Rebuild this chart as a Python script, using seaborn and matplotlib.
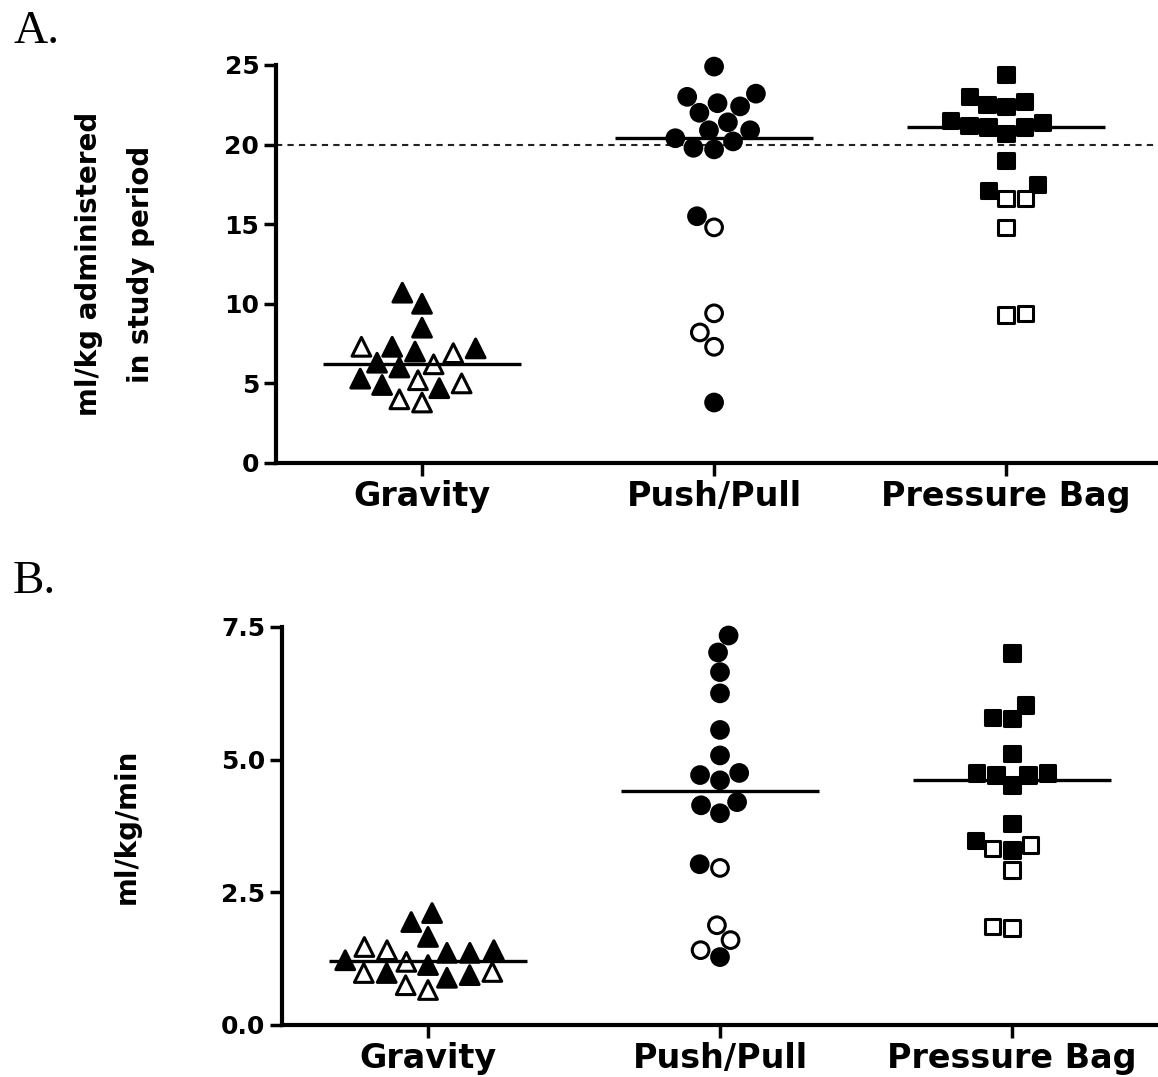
import numpy as np
import pandas as pd
import matplotlib
matplotlib.use("Agg")
import matplotlib.pyplot as plt
import seaborn as sns

# ---------------- data ----------------
methods = ["Gravity", "Push/Pull", "Pressure Bag"]
markers = ["^", "o", "s"]

# Panel A: ml/kg administered in study period
a_gravity_filled = [10.7, 10.0, 8.5, 7.2, 7.0, 7.3, 6.3, 6.0, 5.3, 4.7, 4.9]
a_gravity_open = [7.3, 6.9, 6.2, 5.0, 5.2, 3.8, 4.0]
a_push_filled = [24.9, 22.6, 23.0, 23.2, 22.4, 22.0, 20.9, 21.4, 20.9, 20.2,
                 20.4, 19.7, 19.8, 15.5, 3.8]
a_push_open = [14.8, 9.4, 8.2, 7.3]
a_bag_filled = [24.4, 23.0, 22.5, 22.4, 22.7, 21.4, 21.1, 21.5, 21.1, 21.2,
                20.7, 19.0, 17.1, 17.5]
a_bag_open = [16.6, 16.6, 14.8, 9.3, 9.4]
a_reference = 20

# Panel B: ml/kg/min
b_gravity_filled = [2.11, 1.94, 1.66, 1.36, 1.41, 1.36, 1.22, 0.98, 0.89, 1.13, 0.94]
b_gravity_open = [1.47, 1.41, 1.19, 1.00, 0.98, 0.66, 0.75]
b_push_filled = [7.34, 7.02, 6.65, 6.25, 5.56, 5.08, 4.75, 4.61, 4.71, 4.14,
                 3.99, 4.20, 3.03, 1.28]
b_push_open = [2.96, 1.88, 1.60, 1.41]
b_bag_filled = [7.01, 5.80, 5.78, 6.03, 5.12, 4.75, 4.71, 4.71, 4.75, 4.52,
                3.80, 3.48, 3.30]
b_bag_open = [3.39, 3.33, 2.92, 1.83, 1.85]

a_yticks = [0, 5, 10, 15, 20, 25]
a_yticklabels = ["0", "5", "10", "15", "20", "25"]
b_yticks = [0, 2.5, 5.0, 7.5]
b_yticklabels = ["0.0", "2.5", "5.0", "7.5"]


def build(groups):
    rows = []
    for method, filled, opened in groups:
        rows += [(method, v, "filled") for v in filled]
        rows += [(method, v, "open") for v in opened]
    return pd.DataFrame(rows, columns=["method", "value", "fill"])


df_a = build([("Gravity", a_gravity_filled, a_gravity_open),
              ("Push/Pull", a_push_filled, a_push_open),
              ("Pressure Bag", a_bag_filled, a_bag_open)])
df_b = build([("Gravity", b_gravity_filled, b_gravity_open),
              ("Push/Pull", b_push_filled, b_push_open),
              ("Pressure Bag", b_bag_filled, b_bag_open)])

# ---------------- style ----------------
sns.set_style("ticks")
plt.rcParams["font.family"] = ["DejaVu Sans"]
plt.rcParams["font.weight"] = "bold"
for key in ["text.color", "axes.labelcolor", "xtick.color", "ytick.color",
            "axes.edgecolor"]:
    plt.rcParams[key] = "black"

W, H = 1158, 1077
fig = plt.figure(figsize=(W / 100, H / 100), dpi=100)
ax_a = fig.add_axes([276 / W, 1 - 463 / H, 882 / W, 398 / H])
ax_b = fig.add_axes([282 / W, 1 - 1025 / H, 876 / W, 398 / H])

sizes = {"^": 13.5, "o": 12, "s": 11}


def panel(ax, df, ylim, yticks, yticklabels, ylabel, label_x, xmax, ref=None):
    if ref is not None:
        ax.axhline(ref, color="#222222", lw=1.5, dashes=(3, 2.5), zorder=1)
    for method, marker in zip(methods, markers):
        sub = df[df["method"] == method]
        sns.swarmplot(data=sub, x="method", y="value", hue="fill",
                      order=methods, hue_order=["filled", "open"],
                      palette={"filled": "black", "open": "white"},
                      marker=marker, size=sizes[marker], edgecolor="black",
                      linewidth=2.2, legend=False, ax=ax, zorder=2)
    for coll in ax.collections:
        if len(coll.get_offsets()) > 0:
            coll.set_clip_on(False)
    sns.boxplot(data=df, x="method", y="value", order=methods,
                showbox=False, showcaps=False, showfliers=False,
                whiskerprops={"visible": False},
                medianprops={"color": "black", "linewidth": 2.4},
                width=0.68, ax=ax, zorder=3)
    ax.set_ylim(*ylim)
    ax.set_xlim(-0.5, xmax)
    ax.set_yticks(yticks)
    ax.set_yticklabels(yticklabels, fontsize=18, fontweight="bold")
    ax.set_xticks(range(len(methods)))
    ax.set_xticklabels(methods, fontsize=24, fontweight="bold")
    ax.set_xlabel("")
    ax.set_ylabel(ylabel, fontsize=20, fontweight="bold", linespacing=2.1,
                  va="center", ha="center")
    ax.yaxis.set_label_coords(label_x, 0.5)
    sns.despine(ax=ax)
    for side in ["left", "bottom"]:
        ax.spines[side].set_linewidth(3)
    ax.tick_params(axis="both", direction="out", length=9, width=2.5, pad=3,
                   color="black", labelcolor="black")


panel(ax_a, df_a, (0, 25), a_yticks, a_yticklabels,
      "ml/kg administered\nin study period", -0.1825, 2.52, ref=a_reference)
panel(ax_b, df_b, (0, 7.5), b_yticks, b_yticklabels,
      "ml/kg/min", -0.177, 2.5)

fig.text(13 / W, 1 - 43 / H, "A.", family="Liberation Serif",
         fontweight="normal", fontsize=34, va="baseline", ha="left")
fig.text(13 / W, 1 - 593 / H, "B.", family="Liberation Serif",
         fontweight="normal", fontsize=34, va="baseline", ha="left")

fig.savefig("out.png", dpi=100)
